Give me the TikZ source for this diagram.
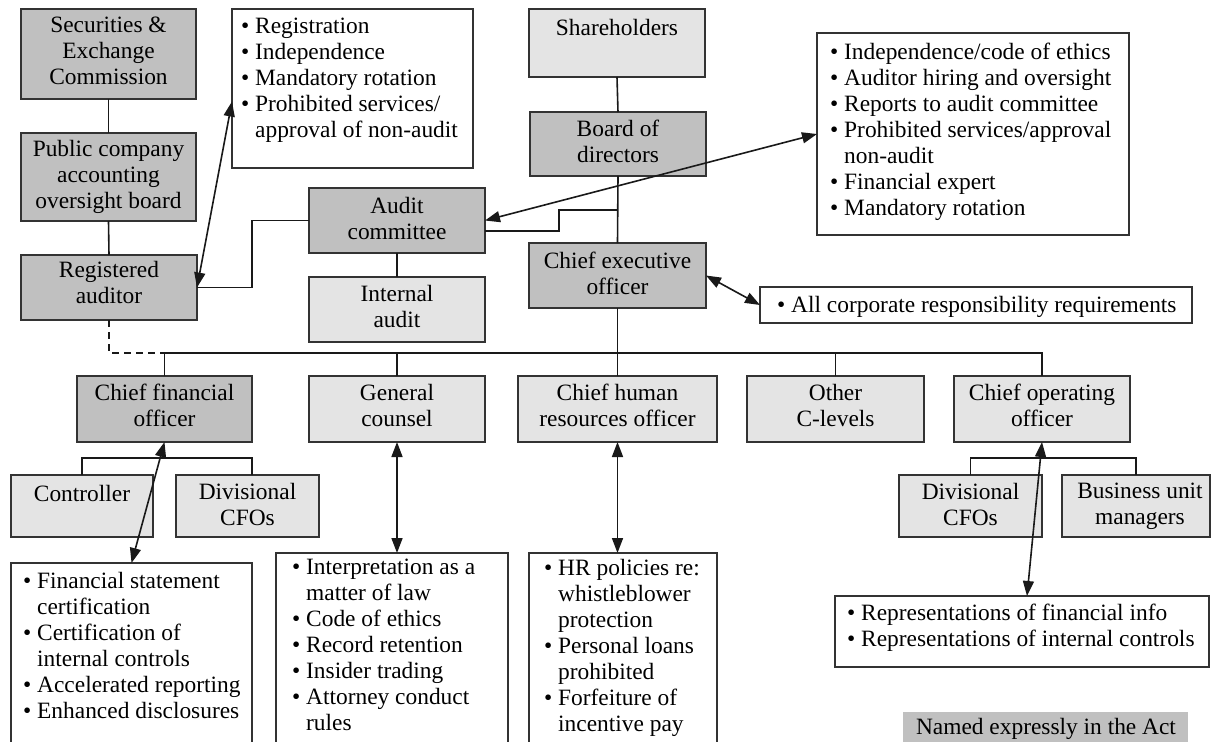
\documentclass[tikz,border=0pt]{standalone}
\usepackage{fontspec}
\setmainfont{Liberation Serif}
\usetikzlibrary{arrows.meta,calc}
\definecolor{dk}{HTML}{C0C0C0}
\definecolor{lt}{HTML}{E4E4E4}
\definecolor{ln}{HTML}{333333}
\newcommand\fs{\fontsize{23.4}{26}\selectfont}
\newcommand\bul{\makebox[14pt][l]{•}}
\newcommand\ind{\hspace*{14pt}}
\newcommand\bx[6]{\node[#2, anchor=north west, minimum width={#5pt-#3pt}, minimum height={#6pt-#4pt}] (#1) at (#3,#4) {};}
\newcommand\tx[4]{\node[txt, anchor=north] (#1) at (#2,{#3-18}) {#4};}
\newcommand\lx[4]{\node[lst, anchor=north west] (#1) at (#2,{#3-18}) {#4};}
\tikzset{
  boxbase/.style={draw=ln, line width=1.7pt, inner sep=0pt, outer sep=0pt},
  dbox/.style={boxbase, fill=dk},
  lbox/.style={boxbase, fill=lt},
  wbox/.style={boxbase, fill=white},
  txt/.style={inner sep=0pt, align=center, font=\fs, execute at begin node=\rule{0pt}{18pt}},
  lst/.style={inner sep=0pt, align=left, font=\fs, execute at begin node=\rule{0pt}{18pt}},
  con/.style={draw=black!90, line width=1.6pt},
  arr/.style={con, {Triangle[length=15pt,width=11pt]}-{Triangle[length=15pt,width=11pt]}},
}
\begin{document}
\begin{tikzpicture}[x=1pt,y=-1pt]
\clip (0,0) rectangle (1211,742);
\fill[white] (0,0) rectangle (1211,742);
% boxes
\bx{sec}{dbox}{21}{9}{196}{99}
\bx{pcaob}{dbox}{21}{133}{196}{221}
\bx{ra}{dbox}{21}{255}{197}{320}
\bx{reg}{wbox}{232}{9}{473}{168}
\bx{sh}{lbox}{529}{9}{705}{77}
\bx{board}{dbox}{530}{112}{706}{176}
\bx{rbox}{wbox}{817}{33}{1129}{235}
\bx{ac}{dbox}{309}{188}{485}{253}
\bx{ia}{lbox}{309}{277}{485}{342}
\bx{ceo}{dbox}{529}{243}{706}{308}
\bx{allc}{wbox}{760}{287}{1192}{323}
\bx{cfo}{dbox}{77}{376}{252}{442}
\bx{gc}{lbox}{309}{376}{485}{442}
\bx{chro}{lbox}{518}{376}{717}{442}
\bx{oth}{lbox}{747}{376}{924}{442}
\bx{coo}{lbox}{954}{376}{1130}{442}
\bx{ctrl}{lbox}{11}{475}{153}{537}
\bx{divA}{lbox}{176}{475}{319}{537}
\bx{divB}{lbox}{899}{475}{1042}{537}
\bx{bu}{lbox}{1062}{475}{1210}{537}
\bx{cfol}{wbox}{11}{563}{252}{746}
\bx{gcl}{wbox}{276}{553}{508}{746}
\bx{hrl}{wbox}{529}{553}{717}{746}
\bx{reps}{wbox}{835}{596}{1209}{667}
\node[fill=dk, inner sep=0pt, anchor=north west, minimum width=285pt, minimum height=34pt] (leg) at (903,712) {};
% texts
\tx{sect}{108.5}{35}{Securities \&\\Exchange\\Commission}
\tx{pcaobt}{108.5}{158.5}{Public company\\accounting\\oversight board}
\tx{rat}{109}{279.5}{Registered\\auditor}
\tx{sht}{617}{35}{Shareholders}
\tx{boardt}{618}{138}{Board of\\directors}
\tx{act}{397}{215}{Audit\\committee}
\tx{iat}{397}{303.5}{Internal\\audit}
\tx{ceot}{617.5}{270}{Chief executive\\officer}
\tx{cfot}{164.5}{402}{Chief financial\\officer}
\tx{gct}{397}{402}{General\\counsel}
\tx{chrot}{617.5}{402}{Chief human\\resources officer}
\tx{otht}{835.5}{402}{Other\\C-levels}
\tx{coot}{1042}{402}{Chief operating\\officer}
\tx{ctrlt}{82}{501}{Controller}
\tx{divAt}{247.5}{501}{Divisional\\CFOs}
\tx{divBt}{970.5}{501}{Divisional\\CFOs}
\tx{but}{1140}{501}{Business unit\\managers}
\tx{legt}{1046}{734}{Named expressly in the Act}
% lists
\lx{regt}{241}{36}{\bul Registration\\\bul Independence\\\bul Mandatory rotation\\\bul Prohibited services/\\\ind approval of non-audit}
\lx{rboxt}{830}{61}{\bul Independence/code of ethics\\\bul Auditor hiring and oversight\\\bul Reports to audit committee\\\bul Prohibited services/approval\\\ind non-audit\\\bul Financial expert\\\bul Mandatory rotation}
\lx{allct}{777}{312}{\bul All corporate responsibility requirements}
\lx{cfolt}{23}{590}{\bul Financial statement\\\ind certification\\\bul Certification of\\\ind internal controls\\\bul Accelerated reporting\\\bul Enhanced disclosures}
\lx{gclt}{292}{577}{\bul Interpretation as a\\\ind matter of law\\\bul Code of ethics\\\bul Record retention\\\bul Insider trading\\\bul Attorney conduct\\\ind rules}
\lx{hrlt}{544}{577}{\bul HR policies re:\\\ind whistleblower\\\ind protection\\\bul Personal loans\\\ind prohibited\\\bul Forfeiture of\\\ind incentive pay}
\lx{repst}{847}{622}{\bul Representations of financial info\\\bul Representations of internal controls}
% connectors
\coordinate (bus) at (0,353);
\coordinate (sb) at (0,458);
\draw[con] (sec.south) -- (pcaob.north);
\draw[con] (pcaob.south) -- (ra.north);
\draw[con] (sh.south) -- (board.north);
\draw[con] (board.south) -- (ceo.north);
\draw[con] (ac.south) -- (ia.north);
\draw[con] (ra.east) -| ($(ac.west)+(-57,0)$) -- (ac.west);
\draw[con] ($(ac.east)+(0,10.5)$) -- ++(74,0) |- (ceo.north |- 0,210);
\draw[con] (cfo.north) |- (bus -| coo.north) -- (coo.north);
\draw[con] (gc.north) -- (gc.north |- bus);
\draw[con] (chro.north) -- (chro.north |- bus);
\draw[con] (oth.north) -- (oth.north |- bus);
\draw[con] (ceo.south) -- (ceo.south |- bus);
\draw[con, dash pattern=on 7pt off 5pt] (ra.south) |- (bus -| cfo.north);
\draw[con] (ctrl.north) |- (sb -| cfo.east) -- (cfo.east |- divA.north);
\draw[con] (divB.north) |- (sb -| bu.north) -- (bu.north);
% arrows
\draw[arr] ($(reg.west)+(0,13)$) -- (ra.east);
\draw[arr] (rbox.west) -- (ac.east);
\draw[arr] (ceo.east) -- (allc.west);
\draw[arr] (cfo.south) -- (cfol.north);
\draw[arr] (gc.south) -- (gc.south |- gcl.north);
\draw[arr] (chro.south) -- (chro.south |- hrl.north);
\draw[arr] (coo.south) -- ($(reps.north)+(5,0)$);
\end{tikzpicture}
\end{document}
